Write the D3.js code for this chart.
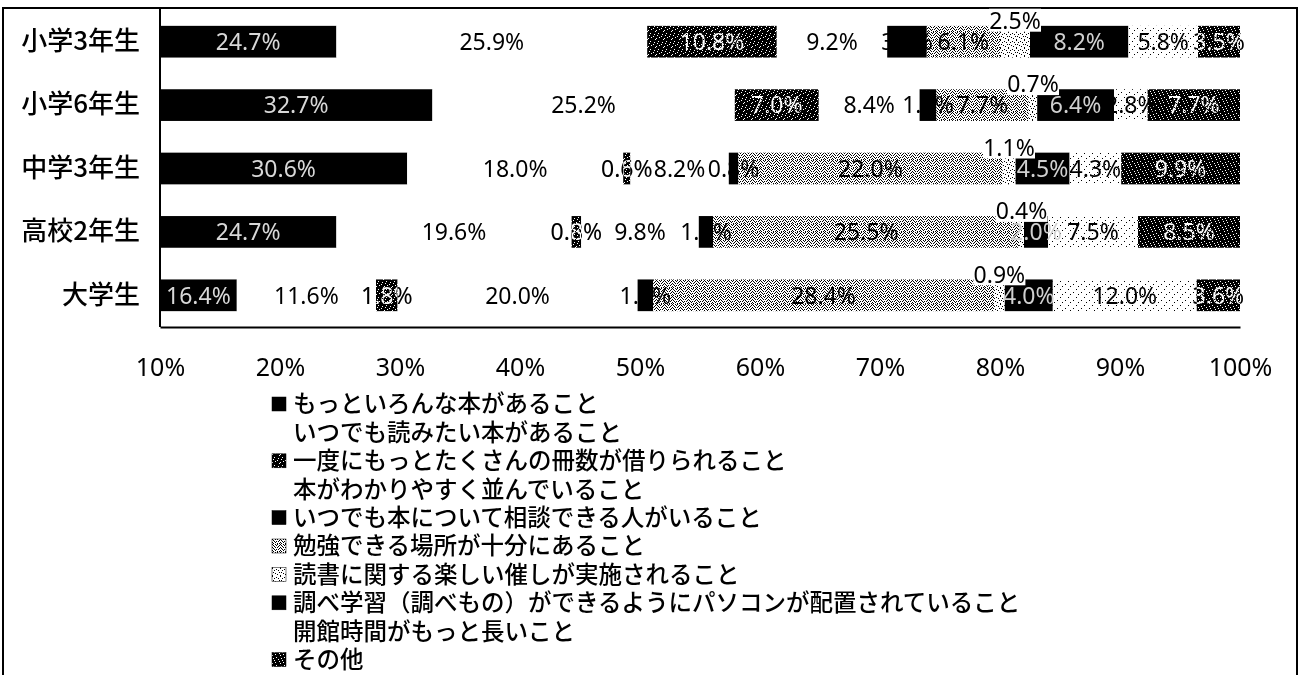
<!DOCTYPE html>
<html><head><meta charset="utf-8">
<script src="https://cdn.jsdelivr.net/npm/d3@7"></script>
<style>body{margin:0;background:#fff}svg{display:block}</style>
</head><body>
<svg id="c" width="1302" height="675"></svg>
<script>
// ---- data ----
const categories = ["小学3年生", "小学6年生", "中学3年生", "高校2年生", "大学生"];
const seriesNames = [
  "もっといろんな本があること",
  "いつでも読みたい本があること",
  "一度にもっとたくさんの冊数が借りられること",
  "本がわかりやすく並んでいること",
  "いつでも本について相談できる人がいること",
  "勉強できる場所が十分にあること",
  "読書に関する楽しい催しが実施されること",
  "調べ学習（調べもの）ができるようにパソコンが配置されていること",
  "開館時間がもっと長いこと",
  "その他"
];
const s1 = [24.7, 32.7, 30.6, 24.7, 16.4];
const s2 = [25.9, 25.2, 18.0, 19.6, 11.6];
const s3 = [10.8, 7.0, 0.6, 0.8, 1.8];
const s4 = [9.2, 8.4, 8.2, 9.8, 20.0];
const s5 = [3.3, 1.4, 0.8, 1.2, 1.3];
const s6 = [6.1, 7.7, 22.0, 25.5, 28.4];
const s7 = [2.5, 0.7, 1.1, 0.4, 0.9];
const s8 = [8.2, 6.4, 4.5, 2.0, 4.0];
const s9 = [5.8, 2.8, 4.3, 7.5, 12.0];
const s10 = [3.5, 7.7, 9.9, 8.5, 3.6];
const seriesValues = [s1, s2, s3, s4, s5, s6, s7, s8, s9, s10];
const xTicks = [10, 20, 30, 40, 50, 60, 70, 80, 90, 100];

// ---- styles ----
const fills = ["#000", "#fff", "url(#pDark)", "#fff", "#000", "url(#pMid)", "url(#pLight)", "#000", "url(#pFaint)", "url(#pDark2)"];
const labelColors = ["#d8d8d8", "#000", "#fff", "#000", "#000", "#000", "#000", "#d0d0d0", "#000", "#fff"];
const labelBlend = [null, null, "difference", null, null, null, null, null, null, "difference"];
const legendShow = [true, false, true, false, true, true, true, true, false, true];

const svg = d3.select("#c");
const defs = svg.append("defs");
const tiles = {
  pDark: ["11111111","11011111","11111101","10111111","11111011","11101111","01111111","11111110"],
  pDark2:["11111111","11110111","10111111","11111101","11011111","11111110","11101111","01111111"],
  pMid:  ["10010100","01001001","00100010","10010100","01000001","00101010","10010000","01000101"],
  pLight:["10000000","00001000","00100010","00000000","01000001","00010000","00000100","10000000"],
  pFaint:["00000000","00001000","00000000","00000000","01000000","00000000","00000010","00000000"]
};
Object.entries(tiles).forEach(([id, rows]) => {
  const p = defs.append("pattern").attr("id", id).attr("patternUnits", "userSpaceOnUse")
    .attr("width", 8).attr("height", 8);
  p.append("rect").attr("width", 8).attr("height", 8).attr("fill", "#fff");
  rows.forEach((r, j) => r.split("").forEach((c, i) => {
    if (c === "1") p.append("rect").attr("x", i).attr("y", j).attr("width", 1).attr("height", 1).attr("fill", "#000");
  }));
});

const x = d3.scaleLinear().domain([10, 100]).range([160, 1240]);
const y = d3.scaleBand().domain(categories).range([10, 327]).paddingInner(0.5).paddingOuter(0.25);

defs.append("clipPath").attr("id", "plotClip").append("rect")
  .attr("x", 160).attr("y", 0).attr("width", 1080).attr("height", 330);

svg.append("rect").attr("width", 1302).attr("height", 675).attr("fill", "#fff");
// outer border
svg.append("rect").attr("x", 3).attr("y", 8).attr("width", 1294).attr("height", 700)
  .attr("fill", "none").attr("stroke", "#000").attr("stroke-width", 2);

// stack
const rows = categories.map((c, i) => {
  const o = {cat: c};
  seriesValues.forEach((s, k) => o["k" + k] = s[i]);
  return o;
});
const keys = seriesValues.map((s, k) => "k" + k);
const stacked = d3.stack().keys(keys)(rows);

const gBars = svg.append("g").attr("clip-path", "url(#plotClip)");
stacked.forEach((layer, k) => {
  gBars.selectAll(null).data(layer).enter().append("rect")
    .attr("x", d => x(d[0]))
    .attr("y", d => y(d.data.cat))
    .attr("width", d => x(d[1]) - x(d[0]))
    .attr("height", y.bandwidth())
    .attr("fill", fills[k]);
});

// labels
const gLab = svg.append("g").attr("font-family", "'Noto Sans', 'DejaVu Sans', sans-serif")
  .attr("font-size", 23).attr("text-anchor", "middle");
stacked.forEach((layer, k) => {
  layer.forEach(d => {
    const x0 = Math.max(x(d[0]), x.range()[0]);
    const cx = (x0 + x(d[1])) / 2;
    let cy = y(d.data.cat) + y.bandwidth() / 2;
    const txt = d3.format(".1f")(d[1] - d[0]) + "%";
    if (k === 6) {
      cy -= 21;
      gLab.append("rect").attr("x", cx - 26).attr("y", cy - 12).attr("width", 52).attr("height", 23).attr("fill", "#fff");
    }
    const t = gLab.append("text").attr("x", cx).attr("y", cy).attr("dy", "0.36em")
      .attr("fill", labelColors[k]).text(txt);
    if (labelBlend[k]) t.style("mix-blend-mode", labelBlend[k]);
  });
});

// axes
const xAxis = d3.axisBottom(x).tickValues(xTicks).tickFormat(d => d + "%").tickSize(0).tickPadding(31);
const gx = svg.append("g").attr("transform", "translate(0,327)").call(xAxis);
gx.select(".domain").attr("stroke", "#000").attr("stroke-width", 2);
gx.selectAll("text").attr("font-family", "'Liberation Sans Narrow', 'Noto Sans', sans-serif")
  .attr("font-size", 25).attr("fill", "#000");

const yAxis = d3.axisLeft(y).tickSize(0).tickPadding(20);
const gy = svg.append("g").attr("transform", "translate(160,0)").call(yAxis);
gy.select(".domain").attr("stroke", "#000").attr("stroke-width", 2).attr("d", "M0,8V327");
gy.selectAll("text").attr("font-family", "'Noto Sans CJK JP', sans-serif")
  .attr("font-size", 26).attr("font-weight", 500).attr("fill", "#000");

// legend
const gLeg = svg.append("g").attr("font-family", "'Noto Sans CJK JP', sans-serif").attr("font-size", 23.5).attr("font-weight", 500);
seriesNames.forEach((n, k) => {
  const cy = 404 + k * 28.4;
  if (legendShow[k]) {
    gLeg.append("rect").attr("x", 272).attr("y", cy - 7).attr("width", 14).attr("height", 14)
      .attr("fill", fills[k]).attr("stroke", "#000").attr("stroke-width", 0.5);
  }
  gLeg.append("text").attr("x", 293).attr("y", cy).attr("dy", "0.36em").attr("fill", "#000").text(n);
});
</script>
</body></html>
